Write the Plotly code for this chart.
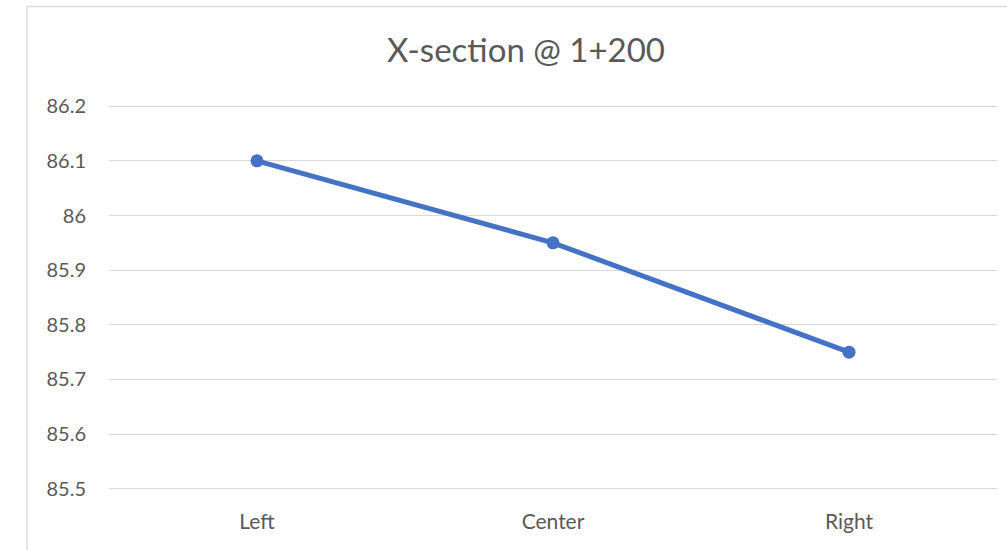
import plotly.graph_objects as go

# Cross-section elevations at station 1+200
positions = ["Left", "Center", "Right"]
elevations = [86.1, 85.95, 85.75]
y_ticks = [85.5, 85.6, 85.7, 85.8, 85.9, 86.0, 86.1, 86.2]
y_tick_text = ["85.5", "85.6", "85.7", "85.8", "85.9", "86", "86.1", "86.2"]

# small padding so the first and last gridlines are drawn inside the plot area
pad = 0.004
y_range = [85.5 - pad, 86.2 + pad]

W, H = 1007, 550
L, R, T, B = 109, 10, 104, 59
pw, ph = W - L - R, H - T - B

def px_x(x):
    return (x - L) / pw

def px_y(y):
    return 1 - (y - T) / ph

font_family = "Lato, 'Open Sans', sans-serif"

fig = go.Figure(
    go.Scatter(
        x=positions,
        y=elevations,
        mode="lines+markers",
        line=dict(color="#4472C4", width=5),
        marker=dict(color="#4472C4", size=13),
        showlegend=False,
        cliponaxis=False,
    )
)

fig.update_layout(
    width=W,
    height=H,
    margin=dict(l=L, r=R, t=T, b=B),
    paper_bgcolor="white",
    plot_bgcolor="white",
    title=dict(
        text="X-section @ 1+200",
        x=px_x(526),
        xref="paper",
        xanchor="center",
        y=1 - 50 / H,
        yref="container",
        yanchor="middle",
        font=dict(family=font_family, size=33, color="#595959"),
    ),
    xaxis=dict(
        type="category",
        range=[-0.5, 2.5],
        showgrid=False,
        showline=False,
        zeroline=False,
        ticks="",
        ticklabelstandoff=16,
        tickfont=dict(family=font_family, size=21, color="#595959"),
    ),
    yaxis=dict(
        range=y_range,
        tickvals=y_ticks,
        ticktext=y_tick_text,
        showgrid=True,
        gridcolor="#D9D9D9",
        gridwidth=1.3,
        showline=False,
        zeroline=False,
        ticks="",
        ticklabelstandoff=22,
        tickfont=dict(family=font_family, size=20, color="#595959"),
    ),
    shapes=[
        dict(
            type="rect",
            xref="paper",
            yref="paper",
            x0=px_x(27),
            x1=px_x(1020),
            y0=px_y(565),
            y1=px_y(6.5),
            line=dict(color="#D9D9D9", width=1.5),
            fillcolor="rgba(0,0,0,0)",
            layer="below",
        )
    ],
)

fig.write_html("out.html")
